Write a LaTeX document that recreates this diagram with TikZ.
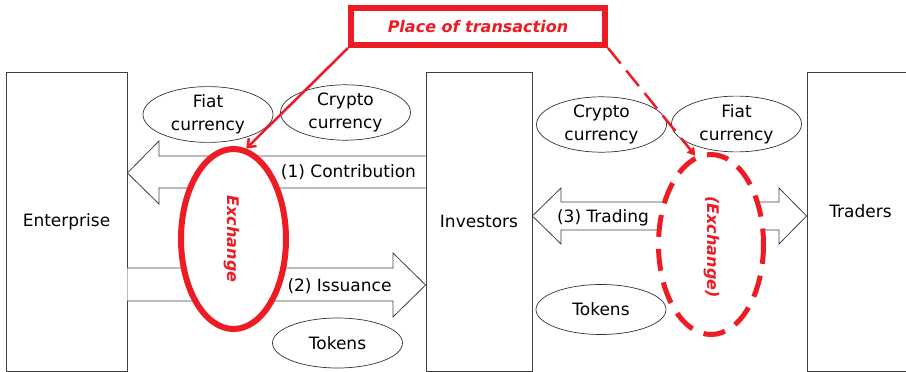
\documentclass[tikz,border=0pt]{standalone}
\usepackage{fontspec}
\setmainfont{DejaVu Sans}
\usepackage{tikz}
\usetikzlibrary{calc}
\usetikzlibrary{shapes.geometric}
\usetikzlibrary{arrows.meta}
\definecolor{mkred}{RGB}{237,28,36}

\begin{document}
\begin{tikzpicture}[x=1pt,y=-1pt,
        font=\fontsize{17}{23}\selectfont,
        party/.style={draw=black!75,line width=0.8pt,minimum width=#1,minimum height=299pt,inner sep=0pt},
        blockarrow/.style={draw=black!75,line width=0.8pt,fill=white,line join=miter},
        money/.style={draw=black!80,line width=0.7pt,fill=white,ellipse,minimum width=130pt,minimum height=50pt,inner sep=0pt,align=center},
        redtext/.style={text=mkred,font=\fontsize{16}{19}\selectfont\bfseries\itshape},
        market/.style={draw=mkred,fill=white,ellipse,minimum width=105pt,minimum height=180pt,inner sep=0pt}]
        \useasboundingbox (0,0) rectangle (906,372);

        % the three parties
        \node[party=121pt] (ent) at (66.5,221.5) {Enterprise};
        \node[party=106pt] (inv) at (479,221.5) {Investors};
        \node[party=107pt] (trd) at (860.5,221.5) {};
        \node[] (trdlabel) at ([yshift=10.5pt]trd.center) {Traders};

        % block arrows
        \draw[blockarrow] (inv.west |- 0,156) -- (159,156) -- (159,141) -- (ent.east |- 0,173)
            -- (159,204) -- (159,188) -- (inv.west |- 0,188);
        \draw[blockarrow] (ent.east |- 0,268) -- (393,268) -- (393,253) -- (inv.west |- 0,285)
            -- (393,317) -- (393,301) -- (ent.east |- 0,301);
        \draw[blockarrow] (inv.east |- 0,216) -- (561,188) -- (561,202) -- (779,202) -- (779,188)
            -- (trd.west |- 0,216) -- (779,244) -- (779,230) -- (561,230) -- (561,244) -- cycle;
        \node[inner sep=0pt] (contrib) at (348.5,172) {(1) Contribution};
        \node[inner sep=0pt] (issue) at (339.5,286) {(2) Issuance};
        \node[inner sep=0pt] (trade) at (603,218) {(3) Trading};

        % left side
        \node[money] (fiatl) at (208,114.5) {Fiat\\currency};
        \node[money] (cryptol) at (345.5,112.5) {Crypto\\currency};
        \node[money] (tokl) at (337.5,343) {Tokens};
        % right side
        \node[money] (cryptor) at (601.5,124.5) {Crypto\\currency};
        \node[money] (fiatr) at (736.5,124) {Fiat\\currency};
        \node[money] (tokr) at (601,309.5) {Tokens};

        % exchanges
        \node[market,line width=6pt] (ex) at (233.5,239) {};
        \node[redtext,rotate=-90] (exlabel) at (232,239) {Exchange};
        \node[market,line width=5pt,dash pattern=on 22pt off 12pt,dash phase=6pt] (dex) at (711,244.5) {};
        \node[redtext,rotate=-90] (dexlabel) at (712,247) {(Exchange)};

        % place of transaction
        \node[draw=mkred,line width=6pt,fill=white,minimum width=254pt,minimum height=37pt,redtext] (place) at (478,26.5) {Place of transaction};
        \draw[mkred,line width=2.5pt,-{Straight Barb[length=7pt,width=11pt]}] (place.south west) -- (ex.82);
        \draw[mkred,line width=2.5pt,dash pattern=on 20pt off 9pt,-{Triangle[length=8pt,width=9pt]}] (place.south east) -- (dex.100);
\end{tikzpicture}
\end{document}
